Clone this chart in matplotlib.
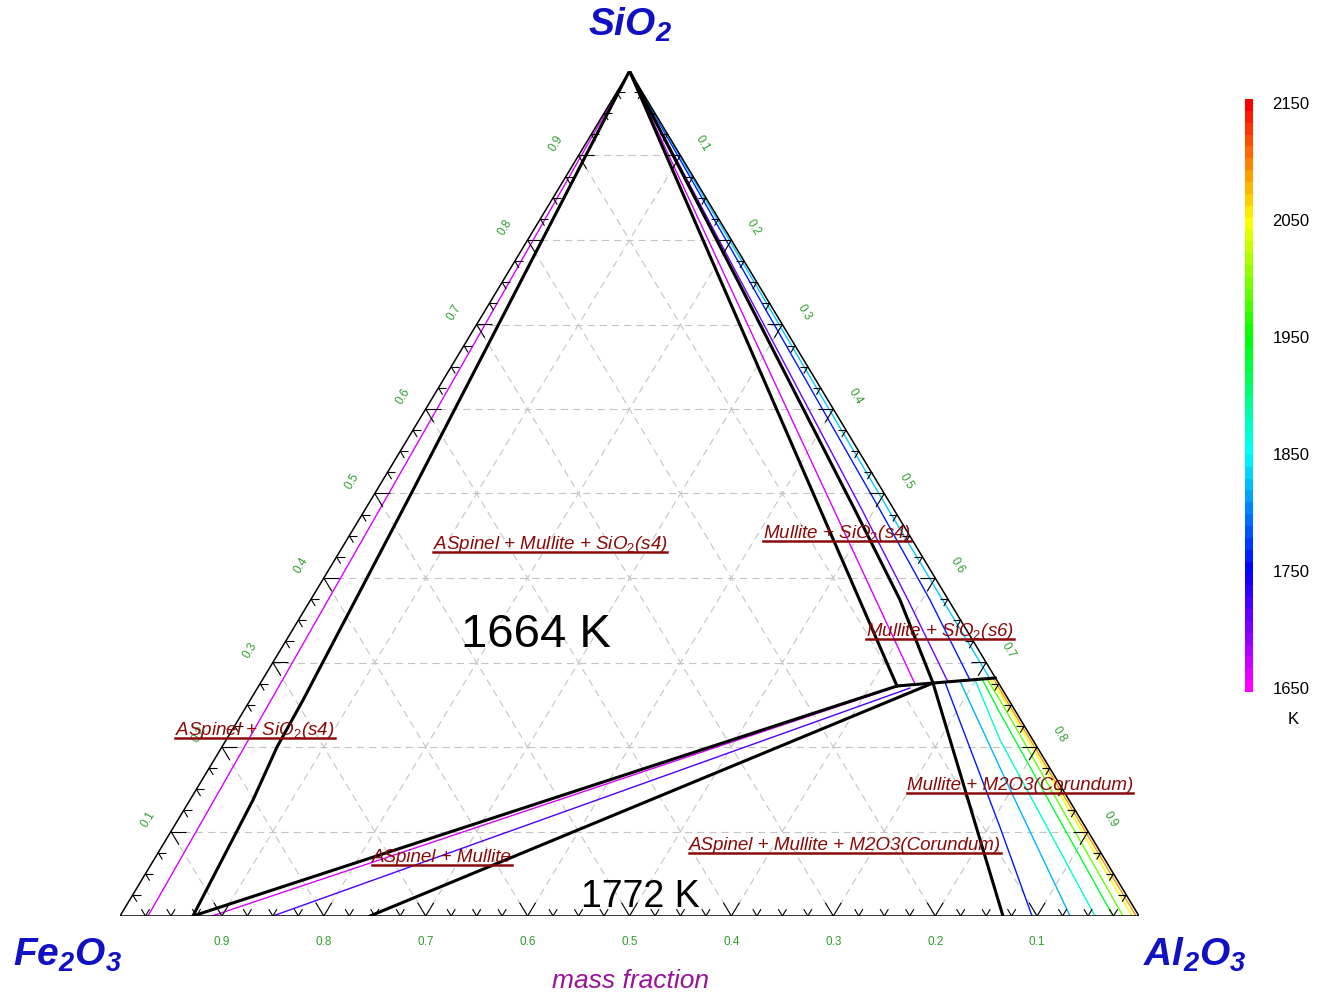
import numpy as np
import matplotlib
matplotlib.use("Agg")
import matplotlib.pyplot as plt
from matplotlib.colors import ListedColormap, hsv_to_rgb, Normalize
from matplotlib.collections import LineCollection
from matplotlib.lines import Line2D
from matplotlib.colorbar import ColorbarBase

plt.rcParams['font.family'] = ['Liberation Sans', 'DejaVu Sans']
plt.rcParams['mathtext.fontset'] = 'custom'
plt.rcParams['mathtext.rm'] = 'Liberation Sans'
plt.rcParams['mathtext.it'] = 'Liberation Sans:italic'
plt.rcParams['mathtext.bf'] = 'Liberation Sans:bold:italic'

# ---------------- data: compositions as (SiO2, Al2O3) mass fractions ----------------
# phase boundaries (thick black)
B_SIO2_ASP_SI = [1.0, 0.5, 0.256, 0.2, 0.137, 0.0]
B_SIO2_ASP_AL = [0.0, 0.0358, 0.0518, 0.0541, 0.0619, 0.0716]

B_SIO2_MUL1_SI = [1.0, 0.2722]
B_SIO2_MUL1_AL = [0.0, 0.6264]

B_SIO2_MUL2_SI = [1.0, 0.75, 0.4805, 0.374, 0.2757]
B_SIO2_MUL2_AL = [0.0, 0.232, 0.481, 0.5785, 0.660]

B_MULLITE_SI = [0.2722, 0.2757, 0.2817]
B_MULLITE_AL = [0.6264, 0.660, 0.7183]

B_ASP_MUL_UP_SI = [0.2722, 0.0]
B_ASP_MUL_UP_AL = [0.6264, 0.0716]

B_ASP_MUL_LO_SI = [0.2757, 0.0]
B_ASP_MUL_LO_AL = [0.660, 0.2453]

B_MUL_COR_SI = [0.2757, 0.0]
B_MUL_COR_AL = [0.660, 0.8665]

# isotherms: temperature (K), SiO2 list, Al2O3 list
ISOTHERMS = [
    (1665, [1.0, 0.0], [0.0, 0.0275]),
    (1665, [1.0, 0.2746], [0.0, 0.6429]),
    (1705, [1.0, 0.4805, 0.374, 0.2769], [0.0, 0.488, 0.5863, 0.6741]),
    (1760, [1.0, 0.4805, 0.374, 0.2793], [0.0, 0.5056, 0.6079, 0.6945]),
    (1830, [1.0, 0.4805, 0.2805], [0.0, 0.514, 0.7136]),
    (1665, [0.2698, 0.0], [0.6237, 0.0903]),
    (1720, [0.2698, 0.0], [0.6404, 0.150]),
    (1760, [0.2769, 0.1053, 0.0], [0.6711, 0.8109, 0.895]),
    (1820, [0.2781, 0.1574, 0.0], [0.6852, 0.7918, 0.9323]),
    (1870, [0.2793, 0.2083, 0.0], [0.6995, 0.7595, 0.9568]),
    (1930, [0.2805, 0.2402, 0.0], [0.7057, 0.7435, 0.9745]),
    (1990, [0.2805, 0.2556, 0.0], [0.7106, 0.7358, 0.9843]),
    (2045, [0.2805, 0.2639, 0.0], [0.7136, 0.7316, 0.9931]),
    (2090, [0.2817, 0.0], [0.7159, 0.9971]),
]

T_MIN, T_MAX = 1650, 2150
CBAR_TICKS = [1650, 1750, 1850, 1950, 2050, 2150]
GRID_LEVELS = [0.1, 0.2, 0.3, 0.4, 0.5, 0.6, 0.7, 0.8, 0.9]

REGION_LABELS = [
    (r"ASpinel + Mullite + SiO$_\mathit{2}$(s4)", 0.422, 0.4343),
    (r"Mullite + SiO$_\mathit{2}$(s4)", 0.7036, 0.4473),
    (r"Mullite + SiO$_\mathit{2}$(s6)", 0.8047, 0.3314),
    (r"ASpinel + SiO$_\mathit{2}$(s4)", 0.1325, 0.2142),
    ("Mullite + M2O3(Corundum)", 0.8832, 0.1491),
    ("ASpinel + Mullite + M2O3(Corundum)", 0.7115, 0.0781),
    ("ASpinel + Mullite", 0.316, 0.0639),
]


def proj(si, al):
    si = np.asarray(si, float)
    al = np.asarray(al, float)
    return al + si / 2.0, si


def tcolor(T):
    f = (T - T_MIN) / (T_MAX - T_MIN)
    return hsv_to_rgb([300.0 / 360.0 * (1.0 - f), 1.0, 1.0])


W, H = 1321, 996
fig = plt.figure(figsize=(W / 100, H / 100), dpi=100)
fig.patch.set_facecolor('white')

# axes: X in [0,1] -> px 120..1139, Y in [0,1] -> px 916..71
ax = fig.add_axes([120 / W, 80 / H, 1019 / W, 845 / H])
ax.set_xlim(0, 1)
ax.set_ylim(0, 1)
ax.axis('off')

SX, SY = 1019.0, 845.0

# grid lines (dashed)
for v in GRID_LEVELS:
    kw = dict(color='#c4c4c4', lw=0.8, dashes=(6.5, 4.5), zorder=1)
    ax.plot([v / 2, 1 - v / 2], [v, v], **kw)
    ax.plot([v, v + (1 - v) / 2], [0, 1 - v], **kw)
    ax.plot([1 - v, (1 - v) / 2], [0, 1 - v], **kw)

# isotherms
for T, si, al in ISOTHERMS:
    x, y = proj(si, al)
    ax.plot(x, y, color=tcolor(T), lw=1.0, zorder=2, solid_capstyle='round')

# phase boundaries
for si, al in [(B_SIO2_ASP_SI, B_SIO2_ASP_AL), (B_SIO2_MUL1_SI, B_SIO2_MUL1_AL),
               (B_SIO2_MUL2_SI, B_SIO2_MUL2_AL), (B_MULLITE_SI, B_MULLITE_AL),
               (B_ASP_MUL_UP_SI, B_ASP_MUL_UP_AL), (B_ASP_MUL_LO_SI, B_ASP_MUL_LO_AL),
               (B_MUL_COR_SI, B_MUL_COR_AL)]:
    x, y = proj(si, al)
    ax.plot(x, y, color='black', lw=2.2, zorder=3, solid_capstyle='round',
            solid_joinstyle='round')

# triangle frame
ax.plot([0, 1, 0.5, 0], [0, 0, 1, 0], color='black', lw=1.1, zorder=4,
        solid_joinstyle='miter')

# ticks
segs = []
dlen = np.hypot(0.5 * SX, SY)
for k in range(1, 40):
    v = k * 0.025
    L = 15.5 if k % 4 == 0 else 8.0
    t = L / dlen
    h = L / SX
    # bottom edge
    segs.append([(v, 0), (v - 0.5 * t, t)])
    segs.append([(v, 0), (v + 0.5 * t, t)])
    # left edge
    p = (v / 2, v)
    segs.append([p, (p[0] + h, p[1])])
    segs.append([p, (p[0] + 0.5 * t, p[1] - t)])
    # right edge
    p = (1 - v / 2, v)
    segs.append([p, (p[0] - h, p[1])])
    segs.append([p, (p[0] - 0.5 * t, p[1] - t)])
ax.add_collection(LineCollection(segs, colors='black', linewidths=0.8, zorder=4))

# edge labels
green = '#2f9e2f'
ang = np.degrees(np.arctan2(SY, 0.5 * SX))
for v in GRID_LEVELS:
    ax.text(v, -0.031, f"{1 - v:.1f}", color=green, fontsize=8.5,
            ha='center', va='center')
    ax.text(v / 2 - 0.0219, v + 0.0145, f"{v:.1f}", color=green, fontsize=8.5,
            ha='center', va='center', rotation=ang)
    ax.text((1 + v) / 2 + 0.0219, 1 - v + 0.0145, f"{v:.1f}", color=green,
            fontsize=8.5, ha='center', va='center', rotation=-ang)

# component labels
blue = '#1010c4'
ckw = dict(color=blue, fontsize=28, fontweight='bold', style='italic',
           ha='center', va='center')
ax.text(0.5005, 1.0544, r"SiO$_\mathbf{2}$", **ckw)
ax.text(-0.051, -0.0462, r"Fe$_\mathbf{2}$O$_\mathbf{3}$", **ckw)
ax.text(1.055, -0.0462, r"Al$_\mathbf{2}$O$_\mathbf{3}$", **ckw)
ax.text(0.5005, -0.0769, "mass fraction", color='#9a119a', fontsize=19,
        style='italic', ha='center', va='center')

# temperature labels
ax.text(0.4082, 0.3183, "1664 K", fontsize=34, ha='center', va='baseline',
        color='black', zorder=6)
ax.text(0.5103, 0.0107, "1772 K", fontsize=27, ha='center', va='baseline',
        color='black', zorder=6)

# region labels with underline
dark_red = '#8a0a0a'
texts = []
for s, x, y in REGION_LABELS:
    t = ax.text(x, y, s, color=dark_red, fontsize=13.5, style='italic',
                ha='center', va='baseline', zorder=6)
    texts.append((t, x, y))

fig.canvas.draw()
renderer = fig.canvas.get_renderer()
for t, x, y in texts:
    bb = t.get_window_extent(renderer)
    _, yb = ax.transData.transform((x, y))
    fig.add_artist(Line2D([bb.x0, bb.x1], [yb - 3, yb - 3], transform=None,
                          color=dark_red, lw=1.8, zorder=6))

# colour bar
cmap = ListedColormap([hsv_to_rgb([300.0 / 360.0 * (1.0 - f), 1.0, 1.0])
                       for f in np.linspace(0, 1, 50)])
cax = fig.add_axes([1245 / W, (H - 692) / H, 8 / W, 593 / H])
cb = ColorbarBase(cax, cmap=cmap, norm=Normalize(T_MIN - 3.5, T_MAX + 3.5),
                  ticks=CBAR_TICKS)
cb.outline.set_visible(False)
cax.tick_params(length=0, pad=14, labelsize=12)
fig.text(1293 / W, 1 - 719 / H, "K", fontsize=12, ha='center', va='center')

fig.savefig("out.png", dpi=100, facecolor='white')
